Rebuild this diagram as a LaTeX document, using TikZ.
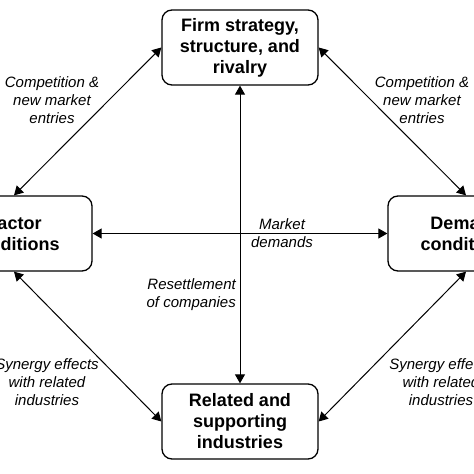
\documentclass[tikz,border=0pt]{standalone}
\usepackage{fontspec}
\setmainfont{Liberation Sans}
\usetikzlibrary{calc}
\usetikzlibrary{arrows.meta}

\begin{document}
\begin{tikzpicture}[x=1pt, y=1pt, node distance=186pt, align=center]
  \tikzset{ % Specifications for style of nodes:
      base/.style = {rectangle, rounded corners=10pt, draw=black, line width=1.3pt, minimum width=156pt, minimum height=75pt, text centered, font=\fontsize{18}{21}\selectfont\bfseries},
      lbl/.style = {inner sep=0pt, font=\fontsize{15}{18}\selectfont\itshape},
      link/.style = {line width=1pt, {Triangle[length=9pt,width=10pt]}-{Triangle[length=9pt,width=10pt]}},
  }
  \useasboundingbox (0,0) rectangle (474,474);
  \node (firm) [base] at (240,426.5) {Firm strategy,\\structure, and\\rivalry};
  \node (factor) [base, below of=firm, xshift=-226pt] {Factor\\conditions};
  \node (demand) [base, below of=firm, xshift=226pt] {Demand\\conditions};
  \node (related) [base, below of=firm, yshift=-188pt] {Related and\\supporting\\industries};

  \draw[link] (factor.north) -- (firm.west);
  \draw[link] (demand.north) -- (firm.east);
  \draw[link] (factor.south) -- (related.west);
  \draw[link] (demand.south) -- (related.east);
  \draw[link] (firm.south) -- (related.north);
  \draw[link] (factor.east) -- (demand.west);

  \node (lcomp) [lbl] at (52,374) {Competition \&\\new market\\entries};
  \node (rcomp) [lbl] at (422,374) {Competition \&\\new market\\entries};
  \node (market) [lbl] at (282,241) {Market\\demands};
  \node (resettle) [lbl, anchor=east, align=right] at (236,179) {Resettlement\\of companies};
  \node (lsyn) [lbl] at (47,92) {Synergy effects\\with related\\industries};
  \node (rsyn) [lbl] at (441,92) {Synergy effects\\with related\\industries};
\end{tikzpicture}
\end{document}
